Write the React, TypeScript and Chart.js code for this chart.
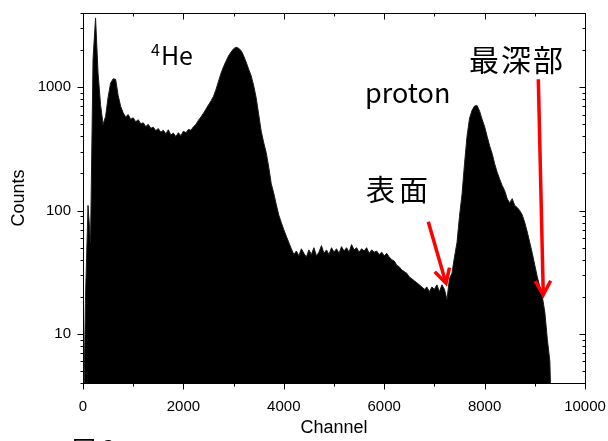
import React, { useEffect, useRef } from "react";
import { Chart, registerables } from "chart.js";

Chart.register(...registerables);

// ---- data (histogram, 50-channel bins starting at channel 0) ----
const BIN_START = 0;
const BIN_WIDTH = 50;
const counts: number[] = [
  1, 20, 110, 55, 1700, 3650, 1300, 720, 500, 580,
  830, 1080, 1170, 1160, 860, 700, 620, 575, 600, 550,
  565, 525, 545, 505, 515, 480, 500, 465, 475, 445,
  462, 432, 448, 420, 452, 410, 425, 398, 428, 405,
  440, 428, 455, 448, 478, 500, 540, 575, 615, 665,
  720, 775, 845, 960, 1120, 1300, 1470, 1630, 1800, 1930,
  2050, 2110, 2070, 1980, 1800, 1600, 1400, 1240, 1030, 820,
  600, 440, 355, 295, 225, 165, 138, 112, 92, 80,
  70, 62, 55, 49, 44, 47, 43, 49, 45, 42,
  48, 44, 50, 43, 46, 52, 45, 48, 44, 50,
  46, 49, 45, 51, 47, 50, 46, 53, 48, 50,
  46, 49, 47, 50, 45, 48, 46, 47, 44, 46,
  43, 45, 42, 40, 39, 36, 35, 33, 32, 31,
  29, 28, 27, 26, 25, 24, 23, 24, 22, 24,
  23, 25, 22, 25, 23, 19, 28, 31, 42, 55,
  90, 135, 240, 400, 560, 650, 705, 710, 640, 550,
  480, 400, 335, 290, 240, 205, 180, 160, 145, 125,
  115, 125, 110, 106, 100, 92, 80, 67, 55, 45,
  36, 29, 24, 20, 15, 9, 6, 1,
];
const channels: number[] = counts.map((_, i) => BIN_START + i * BIN_WIDTH);

const xTickValues = [0, 2000, 4000, 6000, 8000, 10000];
const yTickValues = [10, 100, 1000];
const X_MIN = 0;
const X_MAX = 10000;
const Y_MIN = 4;
const Y_MAX = 4000;

const X_TITLE = "Channel";
const Y_TITLE = "Counts";
const FIG_LABEL = "図3";

// annotation anchors in data coordinates (channel, counts)
const heLabel = { ch: 1355, counts: 1517 };
const protonLabel = { ch: 5618, counts: 741, text: "proton" };
const deepestLabel = { ch: 7689, counts: 1687, text: "最深部" };
const surfaceLabel = { ch: 5637, counts: 146, text: "表面" };
const surfaceArrow = { from: [6878, 81.3], to: [7231, 25.8] };
const deepestArrow = { from: [9070, 1161], to: [9169, 20.7] };

const SANS = "'Liberation Sans', Arial, sans-serif";
const JP = "'Noto Sans CJK JP', 'Noto Sans', sans-serif";

const zeroPad = (s: any) => {
  s.paddingTop = 0;
  s.paddingBottom = 0;
  s.paddingLeft = 0;
  s.paddingRight = 0;
};

const framePlugin = {
  id: "frameAndNotes",
  afterDatasetsDraw(chart: any) {
    const { ctx, chartArea, scales } = chart;
    const { left, right, top, bottom } = chartArea;
    const x = scales.x;
    const y = scales.y;
    ctx.save();
    ctx.strokeStyle = "#000";
    ctx.lineWidth = 1;
    const line = (x1: number, y1: number, x2: number, y2: number) => {
      ctx.beginPath();
      ctx.moveTo(x1, y1);
      ctx.lineTo(x2, y2);
      ctx.stroke();
    };
    const L = Math.round(left) + 0.5;
    const R = Math.round(right) + 0.5;
    const T = Math.round(top) + 0.5;
    const B = Math.round(bottom) + 0.5;
    ctx.strokeRect(L, T, R - L, B - T);
    // x ticks
    for (let v = X_MIN; v <= X_MAX; v += 1000) {
      const px = Math.round(x.getPixelForValue(v)) + 0.5;
      const major = v % 2000 === 0;
      const len = major ? 6 : 3;
      line(px, B, px, B + len);
      line(px, T, px, T + len);
    }
    // y ticks (log)
    for (let d = 1; d <= 1000; d *= 10) {
      for (let m = 1; m <= 9; m++) {
        const v = m * d;
        if (v < Y_MIN || v > Y_MAX) continue;
        const py = Math.round(y.getPixelForValue(v)) + 0.5;
        const len = m === 1 ? 6 : 3;
        line(L - len, py, L, py);
        line(R - len, py, R, py);
      }
    }

    // arrows
    const drawArrow = (a: { from: number[]; to: number[] }) => {
      const x1 = x.getPixelForValue(a.from[0]);
      const y1 = y.getPixelForValue(a.from[1]);
      const x2 = x.getPixelForValue(a.to[0]);
      const y2 = y.getPixelForValue(a.to[1]);
      ctx.strokeStyle = "#ff0000";
      ctx.lineWidth = 3.5;
      ctx.lineCap = "butt";
      ctx.lineJoin = "miter";
      line(x1, y1, x2, y2);
      const ang = Math.atan2(y2 - y1, x2 - x1);
      const hl = 16;
      const spread = 0.5;
      ctx.beginPath();
      ctx.moveTo(x2 - hl * Math.cos(ang - spread), y2 - hl * Math.sin(ang - spread));
      ctx.lineTo(x2, y2);
      ctx.lineTo(x2 - hl * Math.cos(ang + spread), y2 - hl * Math.sin(ang + spread));
      ctx.stroke();
    };
    drawArrow(surfaceArrow);
    drawArrow(deepestArrow);

    // labels
    ctx.fillStyle = "#000";
    ctx.textAlign = "left";
    ctx.textBaseline = "alphabetic";
    const hx = x.getPixelForValue(heLabel.ch);
    const hy = y.getPixelForValue(heLabel.counts);
    ctx.font = `16px ${JP}`;
    ctx.fillText("4", hx, hy - 9);
    const w4 = ctx.measureText("4").width;
    ctx.font = `25px ${JP}`;
    ctx.fillText("He", hx + w4 + 1, hy);

    ctx.font = `27px ${JP}`;
    ctx.fillText(protonLabel.text, x.getPixelForValue(protonLabel.ch), y.getPixelForValue(protonLabel.counts));

    ctx.textBaseline = "middle";
    ctx.font = `30px ${JP}`;
    (ctx as any).letterSpacing = "2px";
    ctx.fillText(deepestLabel.text, x.getPixelForValue(deepestLabel.ch), y.getPixelForValue(deepestLabel.counts));
    ctx.font = `29px ${JP}`;
    (ctx as any).letterSpacing = "4px";
    ctx.fillText(surfaceLabel.text, x.getPixelForValue(surfaceLabel.ch), y.getPixelForValue(surfaceLabel.counts));
    (ctx as any).letterSpacing = "0px";

    // figure label, cut off at bottom
    ctx.textBaseline = "top";
    ctx.font = `24px ${JP}`;
    (ctx as any).letterSpacing = "6px";
    ctx.fillText(FIG_LABEL, 72, 437);
    (ctx as any).letterSpacing = "0px";
    ctx.restore();
  },
};

export default function App() {
  const ref = useRef<HTMLCanvasElement | null>(null);
  useEffect(() => {
    if (!ref.current) return;
    const chart = new Chart(ref.current, {
      type: "line",
      data: {
        datasets: [
          {
            data: channels.map((c, i) => ({ x: c, y: counts[i] })),
            stepped: false,
            fill: "start",
            backgroundColor: "#000",
            borderColor: "#1a1a1a",
            borderWidth: 1,
            pointRadius: 0,
            tension: 0,
          },
        ],
      },
      options: {
        animation: false,
        responsive: false,
        plugins: { legend: { display: false }, tooltip: { enabled: false } },
        layout: { padding: { left: 0, right: 23, top: 13, bottom: 0 } },
        scales: {
          x: {
            type: "linear",
            min: X_MIN,
            max: X_MAX,
            afterBuildTicks: (s: any) => {
              s.ticks = xTickValues.map((v) => ({ value: v }));
            },
            afterFit: (s: any) => {
              s.height = 58;
              zeroPad(s);
            },
            ticks: {
              padding: 15,
              color: "#000",
              font: { family: SANS, size: 15 },
              maxRotation: 0,
              autoSkip: false,
              callback: (v: any) => String(v),
            },
            grid: { display: false, drawTicks: false },
            border: { display: false },
            title: {
              display: true,
              text: X_TITLE,
              color: "#000",
              font: { family: SANS, size: 18 },
              padding: { top: 0, bottom: 2 },
            },
          },
          y: {
            type: "logarithmic",
            min: Y_MIN,
            max: Y_MAX,
            afterBuildTicks: (s: any) => {
              s.ticks = yTickValues.map((v) => ({ value: v }));
            },
            afterFit: (s: any) => {
              s.width = 83;
              zeroPad(s);
            },
            ticks: {
              padding: 12,
              color: "#000",
              font: { family: SANS, size: 15 },
              autoSkip: false,
              callback: (v: any) => String(v),
            },
            grid: { display: false, drawTicks: false },
            border: { display: false },
            title: {
              display: true,
              text: Y_TITLE,
              color: "#000",
              font: { family: SANS, size: 18 },
              padding: { top: 8, bottom: 0 },
            },
          },
        },
      },
      plugins: [framePlugin],
    } as any);
    return () => chart.destroy();
  }, []);
  return (
    <div style={{ position: "absolute", left: 0, top: 0, width: 608, height: 441, background: "#fff", overflow: "hidden" }}>
      <canvas ref={ref} width={608} height={441} style={{ display: "block" }} />
    </div>
  );
}
